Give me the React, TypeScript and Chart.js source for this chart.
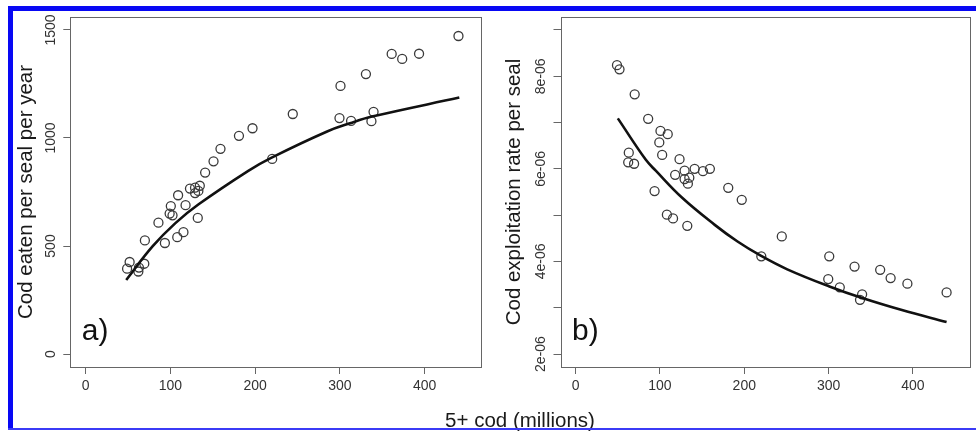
import { useEffect, useRef } from 'react';
import { Chart, registerables } from 'chart.js';

Chart.register(...registerables);

const FONT = '"Liberation Sans", Arial, Helvetica, sans-serif';
Chart.defaults.font.family = FONT;

// 5+ cod stock (millions), one entry per year
const codStock = [
  49, 52, 62.3, 63, 69.3, 70, 86, 93.6, 99.2, 100.6,
  102.6, 108.2, 109.2, 115.5, 118, 123.2, 129.2, 129.2, 132.4, 133.1,
  134.8, 141.1, 151, 159.2, 181, 197, 220.2, 244.5, 299.6, 300.8,
  313.3, 330.8, 337.3, 339.8, 361.2, 373.6, 393.5, 440,
];

// cod eaten per seal per year
const eatenPerSeal = [
  395, 426, 382, 400, 418, 526, 608, 514, 650, 685,
  642, 541, 735, 564, 689, 766, 745, 770, 630, 755,
  779, 840, 892, 950, 1010, 1045, 903, 1111, 1092, 1241,
  1079, 1296, 1078, 1121, 1389, 1366, 1390, 1472,
];

// cod exploitation rate per seal (units of 1e-6)
const exploitationRate = [
  8.24, 8.15, 6.14, 6.35, 6.11, 7.61, 7.08, 5.52, 6.57, 6.82,
  6.30, 5.01, 6.75, 4.93, 5.87, 6.21, 5.78, 5.96, 4.77, 5.68,
  5.81, 6.00, 5.95, 6.00, 5.59, 5.33, 4.11, 4.54, 3.62, 4.11,
  3.44, 3.89, 3.17, 3.29, 3.82, 3.64, 3.52, 3.33,
];

// fitted functional response
const fitStockA = [48, 79, 106, 133, 192, 219, 285, 312, 338, 441];
const fitEaten = [343, 498, 606, 692, 848, 908, 1030, 1068, 1099, 1187];

// fitted exploitation rate (units of 1e-6)
const fitStockB = [50, 83, 95, 126, 165, 192, 219, 251, 301, 340, 387, 440];
const fitRate = [7.09, 6.20, 5.96, 5.38, 4.79, 4.43, 4.13, 3.83, 3.46, 3.21, 2.95, 2.69];

const xTicks = [0, 100, 200, 300, 400];
const eatenTicks = [0, 500, 1000, 1500];
const eatenTickLabels = ['0', '500', '1000', '1500'];
const rateTicks = [2, 3, 4, 5, 6, 7, 8, 9];
const rateTickLabels = ['2e-06', '', '4e-06', '', '6e-06', '', '8e-06', ''];

const CANVAS_W = 488;
const CANVAS_H = 410;

type PanelProps = {
  left: number;
  tag: string;
  yTitle: string;
  xs: number[];
  ys: number[];
  fitX: number[];
  fitY: number[];
  yMin: number;
  yMax: number;
  yTicks: number[];
  yLabels: string[];
  axisWidth: number;
  padRight: number;
  scale: number;
};

// draws the box, rotated y tick labels and panel tag
const framePlugin = {
  id: 'frame',
  afterDraw(chart: any, _args: any, opts: any) {
    const { ctx, chartArea: a, scales } = chart;
    ctx.save();
    ctx.strokeStyle = '#666';
    ctx.lineWidth = 1;
    ctx.strokeRect(Math.round(a.left) + 0.5, Math.round(a.top) + 0.5,
      Math.round(a.right - a.left) - 1, Math.round(a.bottom - a.top));

    const y = scales.y;
    ctx.font = `14px ${FONT}`;
    ctx.fillStyle = '#333';
    ctx.textAlign = 'center';
    ctx.textBaseline = 'alphabetic';
    y.ticks.forEach((t: any, i: number) => {
      const label = opts.labels[i];
      if (!label) return;
      const py = y.getPixelForValue(t.value);
      ctx.save();
      ctx.translate(a.left - 15.5, py);
      ctx.rotate(-Math.PI / 2);
      ctx.fillText(label, 0, 0);
      ctx.restore();
    });

    ctx.font = `30px ${FONT}`;
    ctx.fillStyle = '#111';
    ctx.textAlign = 'left';
    ctx.fillText(opts.tag, a.left + 11.5, a.bottom - 27);
    ctx.restore();
  },
};

function Panel(p: PanelProps) {
  const ref = useRef<HTMLCanvasElement | null>(null);

  useEffect(() => {
    if (!ref.current) return;
    const pts = p.xs.map((x, i) => ({ x, y: p.ys[i] * p.scale }));
    const fit = p.fitX.map((x, i) => ({ x, y: p.fitY[i] * p.scale }));
    const tickMarks = { drawOnChartArea: false, drawTicks: true, tickLength: 7, color: '#666', lineWidth: 1 };

    const chart = new Chart(ref.current, {
      type: 'scatter',
      data: {
        datasets: [
          {
            data: fit,
            showLine: true,
            pointRadius: 0,
            borderColor: '#111',
            borderWidth: 2.6,
            tension: 0.4,
          } as any,
          {
            data: pts,
            pointRadius: 4.5,
            pointStyle: 'circle',
            borderColor: '#3a3a3a',
            backgroundColor: 'rgba(0,0,0,0)',
            borderWidth: 1.3,
          },
        ],
      },
      options: {
        responsive: false,
        animation: false,
        events: [],
        layout: { padding: { top: 17, right: p.padRight, left: 0, bottom: 0 } },
        plugins: {
          legend: { display: false },
          tooltip: { enabled: false },
          frame: { labels: p.yLabels, tag: p.tag },
        } as any,
        scales: {
          x: {
            type: 'linear',
            min: -18,
            max: 468,
            afterBuildTicks: (s: any) => { s.ticks = xTicks.map((v) => ({ value: v })); },
            afterFit: (s: any) => { s.height = CANVAS_H - 367; },
            grid: tickMarks,
            border: { display: false },
            ticks: { font: { size: 14 }, color: '#333', padding: 4, maxRotation: 0 },
          },
          y: {
            type: 'linear',
            min: p.yMin,
            max: p.yMax,
            afterBuildTicks: (s: any) => { s.ticks = p.yTicks.map((v) => ({ value: v * p.scale })); },
            afterFit: (s: any) => { s.width = p.axisWidth; },
            grid: tickMarks,
            border: { display: false },
            ticks: { color: 'rgba(0,0,0,0)', font: { size: 14 } },
            title: {
              display: true,
              text: p.yTitle,
              color: '#1a1a1a',
              font: { size: 20.5 },
              padding: { top: 14, bottom: 0 },
            },
          },
        },
      },
      plugins: [framePlugin],
    });
    return () => chart.destroy();
  }, []);

  return (
    <canvas
      ref={ref}
      width={CANVAS_W}
      height={CANVAS_H}
      style={{ position: 'absolute', left: p.left, top: 0, width: CANVAS_W, height: CANVAS_H, display: 'block' }}
    />
  );
}

export default function App() {
  return (
    <div style={{ position: 'fixed', left: 0, top: 0, width: 976, height: 431, background: '#fff', overflow: 'hidden' }}>
      <Panel
        left={0}
        tag="a)"
        yTitle="Cod eaten per seal per year"
        xs={codStock}
        ys={eatenPerSeal}
        fitX={fitStockA}
        fitY={fitEaten}
        yMin={-60}
        yMax={1560}
        yTicks={eatenTicks}
        yLabels={eatenTickLabels}
        axisWidth={70.3}
        padRight={2}
        scale={1}
      />
      <Panel
        left={488}
        tag="b)"
        yTitle="Cod exploitation rate per seal"
        xs={codStock}
        ys={exploitationRate}
        fitX={fitStockB}
        fitY={fitRate}
        yMin={1.72e-6}
        yMax={9.28e-6}
        yTicks={rateTicks}
        yLabels={rateTickLabels}
        axisWidth={72.5}
        padRight={1}
        scale={1e-6}
      />
      <div
        style={{
          position: 'absolute', left: 420, width: 200, top: 410, height: 20,
          textAlign: 'center', font: `20.5px ${FONT}`, lineHeight: '20px', color: '#1a1a1a',
        }}
      >
        5+ cod (millions)
      </div>
      <div style={{ position: 'absolute', left: 8, top: 6, width: 5, height: 424, background: '#0808f4' }} />
      <div style={{ position: 'absolute', left: 8, top: 6, width: 968, height: 5, background: '#0808f4' }} />
      <div style={{ position: 'absolute', left: 8, top: 428, width: 968, height: 2, background: '#3b3bf6' }} />
    </div>
  );
}
